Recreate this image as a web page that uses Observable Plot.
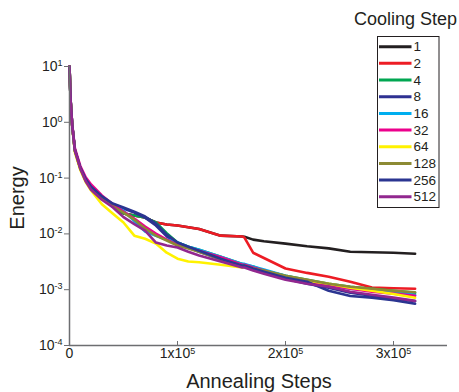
<!DOCTYPE html>
<html>
<head>
<meta charset="utf-8">
<script src="https://cdn.jsdelivr.net/npm/d3@7"></script>
<script src="https://cdn.jsdelivr.net/npm/@observablehq/plot@0.6"></script>
<style>
  html, body { margin: 0; padding: 0; background: #fff; }
  #chart svg { display: block; }
</style>
</head>
<body>
<div id="chart"></div>
<script>
// ---- data ----
const steps = [0, 1000, 2500, 5000, 10000, 15000, 20000, 30000, 40000, 50000, 60000, 70000, 80000, 90000, 100000, 110000, 120000, 140000, 160000, 162000, 170000, 180000, 200000, 220000, 240000, 260000, 280000, 300000, 320000];

const coolingSteps = ["1", "2", "4", "8", "16", "32", "64", "128", "256", "512"];
const seriesColors = ["#231f20", "#ed1c24", "#00a651", "#2e3192", "#00aeef", "#ec008c", "#fff200", "#8c8a34", "#2b3591", "#92278f"];

const e1   = [10, 2.5, 0.88, 0.31, 0.15, 0.092, 0.066, 0.044, 0.031, 0.0232, 0.0213, 0.0196, 0.0160, 0.0147, 0.0141, 0.0132, 0.0122, 0.0093, 0.0090, 0.0089, 0.0079, 0.0074, 0.0067, 0.0060, 0.0055, 0.0048, 0.0047, 0.0046, 0.0044];
const e2   = [10, 2.5, 0.88, 0.31, 0.15, 0.092, 0.066, 0.044, 0.031, 0.0232, 0.0213, 0.0196, 0.0160, 0.0147, 0.0141, 0.0132, 0.0122, 0.0093, 0.0090, 0.0086, 0.0046, 0.0037, 0.0024, 0.0020, 0.00171, 0.00139, 0.00109, 0.00106, 0.00104];
const e4   = [10, 2.5, 0.88, 0.31, 0.15, 0.091, 0.065, 0.044, 0.031, 0.0232, 0.0213, 0.0196, 0.0160, 0.0103, 0.0070, 0.0059, 0.0052, 0.0039, 0.0029, 0.0028, 0.0026, 0.0022, 0.00178, 0.00151, 0.00128, 0.00113, 0.00104, 0.00096, 0.00088];
const e8   = [10, 2.5, 0.9, 0.32, 0.152, 0.094, 0.068, 0.046, 0.034, 0.0285, 0.0241, 0.0196, 0.0141, 0.0090, 0.0067, 0.0057, 0.0048, 0.0035, 0.0026, 0.0026, 0.0023, 0.0020, 0.00157, 0.00128, 0.00109, 0.00088, 0.00078, 0.00070, 0.00062];
const e16  = [10, 2.5, 0.88, 0.31, 0.15, 0.09, 0.065, 0.044, 0.032, 0.0262, 0.0170, 0.0110, 0.0093, 0.0079, 0.0070, 0.0059, 0.0052, 0.0039, 0.0029, 0.0029, 0.0026, 0.0023, 0.00178, 0.00145, 0.00123, 0.00104, 0.00096, 0.00088, 0.00081];
const e32  = [10, 2.5, 0.92, 0.34, 0.165, 0.103, 0.077, 0.049, 0.034, 0.0251, 0.0188, 0.0135, 0.0101, 0.0079, 0.0064, 0.0057, 0.0050, 0.0038, 0.0028, 0.0028, 0.0025, 0.0022, 0.0017, 0.0014, 0.0012, 0.00104, 0.00092, 0.00085, 0.00078];
const e64  = [10, 2.5, 0.85, 0.29, 0.14, 0.085, 0.060, 0.034, 0.0232, 0.0160, 0.0093, 0.0082, 0.0067, 0.0046, 0.0036, 0.0032, 0.0031, 0.0028, 0.0025, 0.0025, 0.0024, 0.0021, 0.00171, 0.00145, 0.00128, 0.00109, 0.00096, 0.00084, 0.00072];
const e128 = [10, 2.5, 0.88, 0.31, 0.148, 0.09, 0.064, 0.043, 0.031, 0.0241, 0.0180, 0.0125, 0.0093, 0.0076, 0.0062, 0.0055, 0.0048, 0.0035, 0.0027, 0.0027, 0.0024, 0.0022, 0.00178, 0.00151, 0.00128, 0.00113, 0.00104, 0.00096, 0.00090];
const e256 = [10, 2.5, 0.9, 0.32, 0.155, 0.096, 0.07, 0.047, 0.035, 0.0297, 0.0251, 0.0205, 0.0153, 0.0097, 0.0070, 0.0059, 0.0050, 0.0036, 0.0027, 0.0027, 0.0024, 0.0021, 0.00164, 0.00139, 0.00096, 0.00077, 0.00072, 0.00065, 0.00056];
const e512 = [10, 2.5, 0.88, 0.31, 0.149, 0.088, 0.062, 0.041, 0.030, 0.0200, 0.0150, 0.0115, 0.0070, 0.0062, 0.0057, 0.0048, 0.0041, 0.0032, 0.0025, 0.0025, 0.0022, 0.00194, 0.00151, 0.00128, 0.00113, 0.00092, 0.00081, 0.00072, 0.00063];

const xTicks = [0, 100000, 200000, 300000];
const yTicks = [1e-4, 1e-3, 1e-2, 1e-1, 1, 10];

const xTitle = "Annealing Steps";
const yTitle = "Energy";
const legendTitle = "Cooling Step";

// ---- build table ----
const energies = [e1, e2, e4, e8, e16, e32, e64, e128, e256, e512];
const table = coolingSteps.flatMap((k, j) =>
  steps.map((s, i) => ({ step: s, energy: energies[j][i], k }))
);

const gray = "#6d6e71";
const ink = "#231f20";
const font = "'Liberation Sans', Arial, Helvetica, sans-serif";

const chart = Plot.plot({
  width: 459,
  height: 392,
  marginLeft: 69,
  marginRight: 12,
  marginTop: 66,
  marginBottom: 47,
  style: { fontFamily: font, color: ink, background: "#fff", overflow: "visible" },
  x: { domain: [0, 350000] },
  y: { type: "log", domain: [1e-4, 10] },
  color: { domain: coolingSteps, range: seriesColors },
  marks: [
    Plot.lineY(table, {
      x: "step", y: "energy", z: "k", stroke: "k",
      strokeWidth: 2.6, strokeLinejoin: "round", strokeLinecap: "round"
    }),
    Plot.axisY({
      ticks: yTicks,
      tickFormat: d => "10^" + Math.round(Math.log10(d)),
      tickSize: 5, tickPadding: 2, fontSize: 14,
      stroke: gray, fill: ink, label: null
    }),
    Plot.axisX({
      ticks: xTicks,
      tickFormat: d => d === 0 ? "0" : (d / 1e5) + "x10^5",
      tickSize: 3, tickPadding: 0, fontSize: 14,
      stroke: gray, fill: ink, label: null
    }),
    Plot.ruleX([0], { stroke: gray, strokeWidth: 1.5 }),
    Plot.ruleY([1e-4], { stroke: gray, strokeWidth: 1.5 })
  ]
});

document.getElementById("chart").appendChild(chart);

const svg = d3.select(chart);

// x ticks point inward (upward)
svg.selectAll('g[aria-label="x-axis tick"] path').attr("d", "M0,0L0,-4");

// superscripts
function supify(sel) {
  sel.each(function () {
    const t = d3.select(this);
    const s = t.text();
    const parts = s.split("^");
    if (parts.length < 2) return;
    t.text("");
    t.append("tspan").text(parts[0]);
    t.append("tspan").attr("font-size", 9).attr("dy", "-0.55em").text(parts[1]);
  });
}
supify(svg.selectAll('g[aria-label="y-axis tick label"] text'));
supify(svg.selectAll('g[aria-label="x-axis tick label"] text'));

// axis titles
svg.append("text")
  .attr("transform", "translate(24,198) rotate(-90)")
  .attr("text-anchor", "middle")
  .attr("font-family", font)
  .attr("font-size", 20)
  .attr("fill", ink)
  .text(yTitle);

svg.append("text")
  .attr("x", 259).attr("y", 388)
  .attr("text-anchor", "middle")
  .attr("font-family", font)
  .attr("font-size", 20)
  .attr("fill", ink)
  .text(xTitle);

// legend
const color = chart.scale("color");
const lg = svg.append("g").attr("font-family", font).attr("text-anchor", "start");
lg.append("text")
  .attr("x", 405.5).attr("y", 25)
  .attr("text-anchor", "middle")
  .attr("font-size", 18)
  .attr("fill", ink)
  .text(legendTitle);
lg.append("rect")
  .attr("x", 377.5).attr("y", 36.5)
  .attr("width", 61.5).attr("height", 171)
  .attr("fill", "#fff").attr("stroke", ink).attr("stroke-width", 1);
color.domain.forEach((k, i) => {
  const y = 46.7 + i * 16.67;
  lg.append("line")
    .attr("x1", 379).attr("x2", 411.5)
    .attr("y1", y).attr("y2", y)
    .attr("stroke", color.apply(k)).attr("stroke-width", 3);
  lg.append("text")
    .attr("x", 413.5).attr("y", y + 4.7)
    .attr("text-anchor", "start")
    .attr("font-size", 13.5)
    .attr("fill", ink)
    .text(k);
});
</script>
</body>
</html>
